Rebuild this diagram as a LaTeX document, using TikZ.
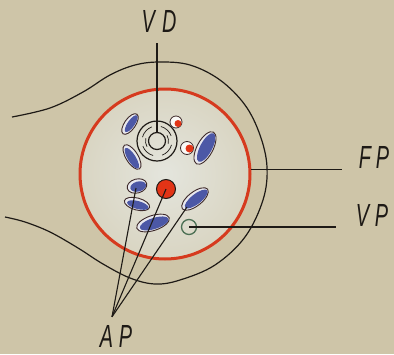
\documentclass[tikz,border=0pt]{standalone}
\usepackage{fontspec}
\usepackage{graphicx}
\usetikzlibrary{arrows.meta, positioning, calc}
\newfontfamily\handfont{Liberation Sans}
\definecolor{paper}{RGB}{206,197,168}
\definecolor{cellin}{RGB}{228,229,221}
\definecolor{fpred}{RGB}{214,58,30}
\definecolor{dotred}{RGB}{226,52,22}
\definecolor{plblue}{RGB}{76,88,166}
\definecolor{plhigh}{RGB}{232,232,238}
\definecolor{ploutl}{RGB}{62,42,42}
\definecolor{vpgreen}{RGB}{76,112,84}
\definecolor{ink}{RGB}{30,26,22}

% blue plastid: centre x, centre y, rx, ry, angle
\newcommand{\plastid}[5]{%
  \begin{scope}[shift={(#1,#2)}, rotate=#5]
    \filldraw[fill=plhigh, draw=ploutl, line width=0.9pt] (0,0) ellipse ({#3} and {#4});
    \fill[plblue] (1,0.8) ellipse ({#3-2} and {#4-2});
  \end{scope}}

\begin{document}
\begin{tikzpicture}[x=1pt, y=-1pt, every node/.style={inner sep=0pt}]
    \tikzset{lab/.style={font=\handfont\itshape\fontsize{32}{32}\selectfont, text=ink},
             lead/.style={draw=ink, line width=1.1pt},
             ring/.style={circle, line width=1.2pt}}
    \fill[paper] (0,0) rectangle (394,354);
    \useasboundingbox (0,0) rectangle (394,354);
    % cell body and its outline
    \shade[inner color=cellin, outer color=paper!50!cellin] (165,174) circle (85pt);
    \draw[ink, line width=1.2pt] plot[smooth, tension=0.6] coordinates {(12,117) (50,108) (83,92) (110,75) (135,65) (160,62) (190,65) (220,80) (245,105) (260,135) (267,167) (263,200) (245,237) (215,265) (180,280) (155,284) (130,278) (103,264) (78,248) (50,232) (25,222) (5,217)};
    % flagellar pocket
    \node[ring, draw=fpred, line width=3pt, minimum size=170pt] (fpring) at (165,174) {};
    % ventral disc
    \node[ring, draw=ink, minimum size=40pt] (vdouter) at (157,141) {};
    \node[ring, draw=ink, minimum size=17pt] (vdcore) at (157,141) {};
    \foreach \a in {15,105,195,285}
        \draw[ink, line width=0.7pt] (vdcore.center) ++(\a:15) arc[start angle=\a, end angle=\a+55, radius=15];
    \foreach \a in {150,330}
        \draw[ink, line width=0.7pt] (vdcore.center) ++(\a:11.5) arc[start angle=\a, end angle=\a+45, radius=11.5];
    % small red granules
    \node[ring, draw=ploutl, fill=white!90!paper, line width=0.8pt, minimum size=12pt] (rd1) at (176,122) {};
    \fill[dotred] (178,123.5) circle (3.5pt);
    \node[ring, draw=ploutl, fill=white!90!paper, line width=0.8pt, minimum size=13pt] (rd2) at (187,148) {};
    \fill[dotred] (189.5,148.5) circle (4pt);
    % plastids
    \plastid{130}{124}{12}{5.5}{55}
    \plastid{132}{157}{14}{6}{-58}
    \plastid{205}{148}{18}{8}{62}
    \plastid{137}{186}{10}{7}{15}
    \plastid{137}{204}{13}{6}{-15}
    \plastid{153}{223}{17}{7.5}{18}
    \plastid{195}{199}{16}{7}{38}
    \node[ring, draw=ink, fill=dotred, line width=1pt, minimum size=19pt] (apdot) at (166,189) {};
    \node[ring, draw=vpgreen, line width=1.3pt, minimum size=15pt] (vpring) at (189,227) {};
    \coordinate (apa) at (136,188);
    \coordinate (apd) at (187,207);
    % labels
    \node[lab] (vd) at (159,21) {\scalebox{0.62}[1]{V\hspace{12pt}D}};
    \node[lab] (fp) at (374,157) {\scalebox{0.62}[1]{F\hspace{8pt}P}};
    \node[lab] (vp) at (372,215) {\scalebox{0.62}[1]{V\hspace{9pt}P}};
    \node[lab] (ap) at (116,336) {\scalebox{0.62}[1]{A\hspace{9pt}P}};
    \coordinate (aptip) at ([xshift=-4pt, yshift=8pt]ap.north);
    % leader lines
    \draw[lead] (vdcore.north) -- ++(0,-89);
    \draw[lead, shorten >=17pt] (fpring.3) -- (fpring.3 -| fp.west);
    \draw[lead, shorten >=20pt] (vpring.center) -- (vpring.center -| vp.west);
    \draw[lead] (aptip) -- (apa);
    \draw[lead] (aptip) -- (apdot.center);
    \draw[lead] (aptip) -- (apd);
\end{tikzpicture}
\end{document}
